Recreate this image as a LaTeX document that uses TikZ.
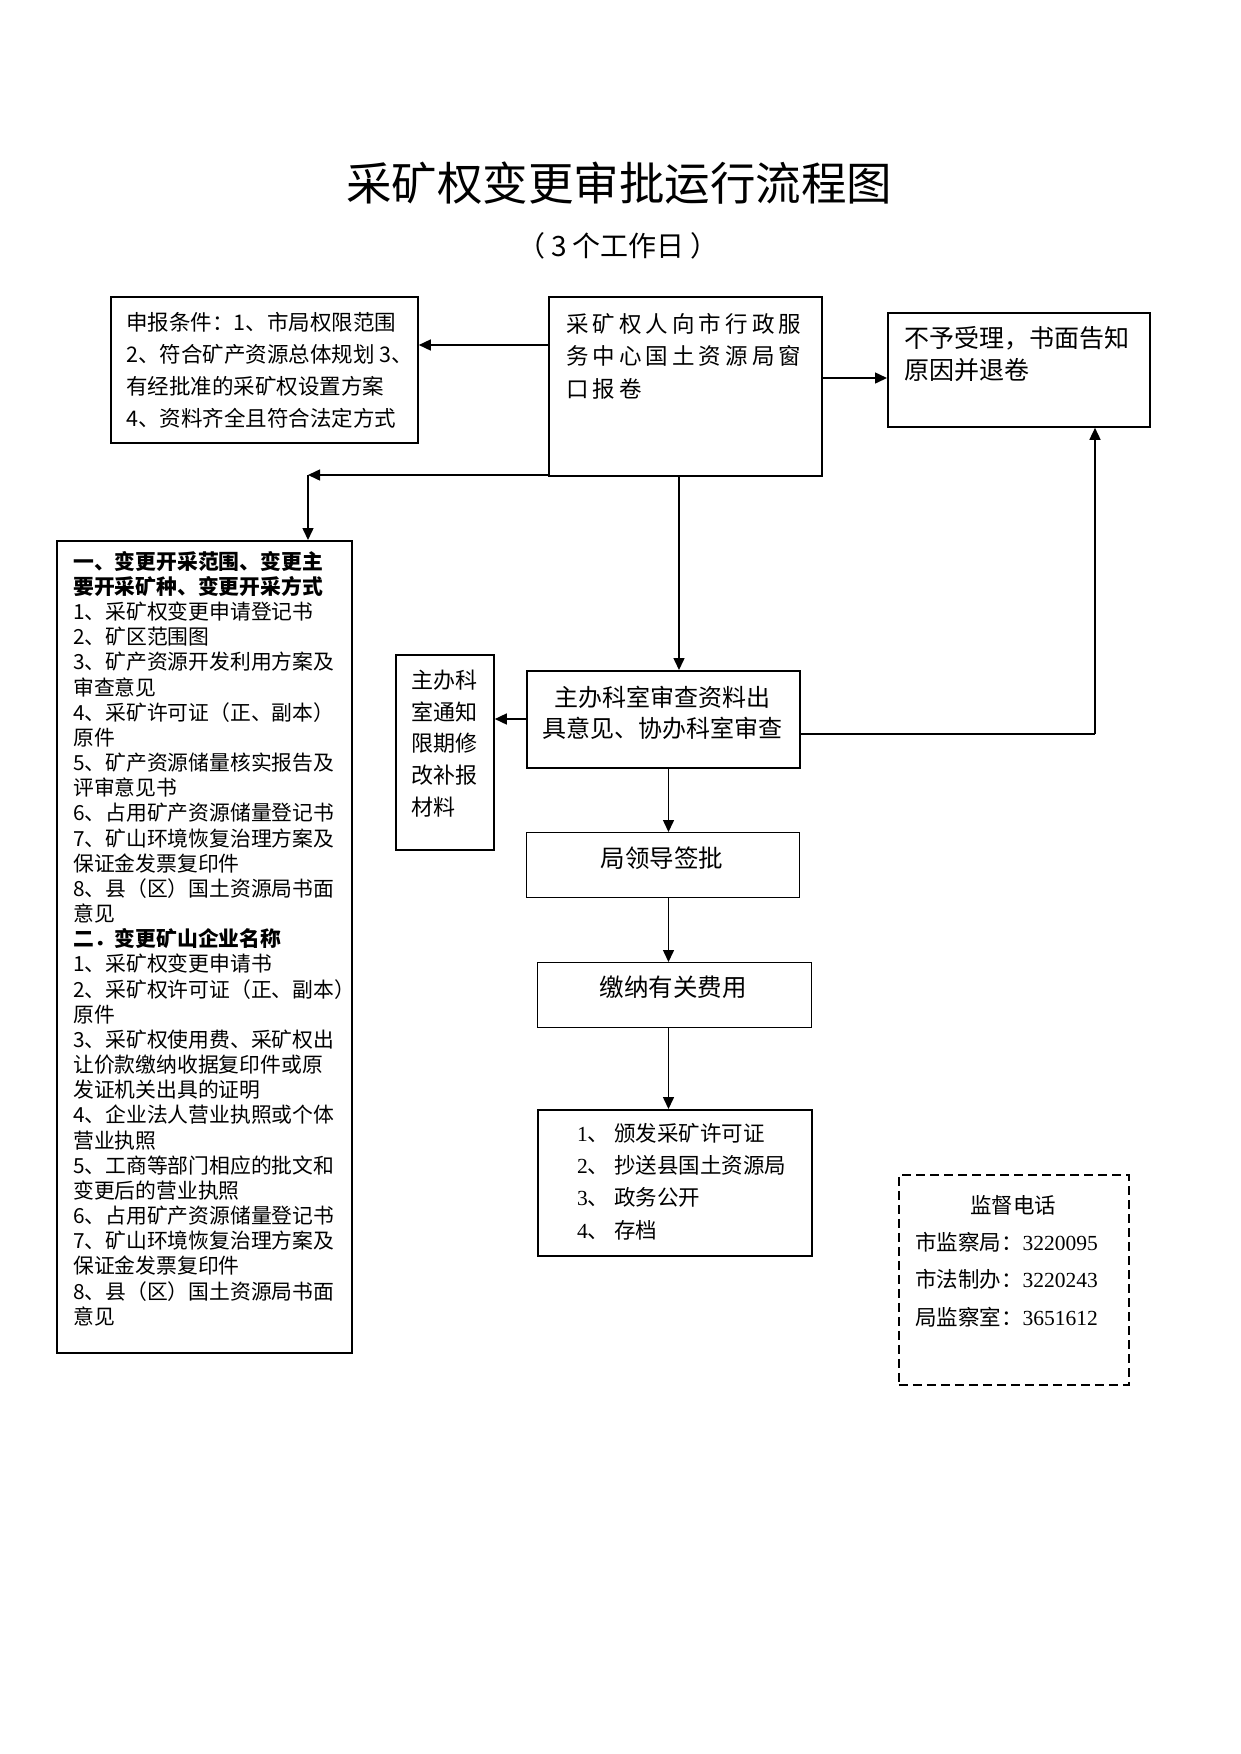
\documentclass[tikz,border=0pt]{standalone}
\usepackage{fontspec}
\setmainfont{Noto Sans CJK SC}
\newfontfamily\tnr{Liberation Serif}
\usetikzlibrary{arrows.meta}
\newcommand\myfs[2]{\fontsize{#1pt}{#2pt}\selectfont}
\begin{document}
\begin{tikzpicture}[x=1pt,y=-1pt,
  box/.style={draw, line width=1.8pt, inner sep=0pt, anchor=north west},
  arr/.style={line width=1.5pt, -{Triangle[length=12pt,width=11pt]}},
  plain/.style={line width=1.5pt},
  txt/.style={inner sep=0pt, align=left, anchor=west},
  ctxt/.style={inner sep=0pt, align=center},
]
\fill[white] (0,0) rectangle (1241,1754);
\useasboundingbox (0,0) rectangle (1241,1754);

% title
\node[ctxt] (title) at (619,183) {\myfs{45.5}{50}采矿权变更审批运行流程图};
\node[ctxt] (subtitle) at (618,246) {\myfs{28}{30}（\hspace{6pt}3 个工作日\hspace{6pt}）};

% boxes
\node[box, minimum width=307pt, minimum height=146pt] (b1) at (110,296) {};
\node[box, minimum width=273pt, minimum height=179pt] (b2) at (548,296) {};
\node[box, minimum width=262pt, minimum height=114pt] (b3) at (887,312) {};
\node[box, minimum width=295pt, minimum height=812pt] (b4) at (56,540) {};
\node[box, minimum width=98pt, minimum height=195pt] (b5) at (395,654) {};
\node[box, minimum width=273pt, minimum height=97pt] (b6) at (526,670) {};
\node[box, minimum width=273pt, minimum height=65pt, line width=1.4pt] (b7) at (526,832) {};
\node[box, minimum width=274pt, minimum height=65pt, line width=1.4pt] (b8) at (537,962) {};
\node[box, minimum width=274pt, minimum height=146pt] (b9) at (537,1109) {};
\node[box, minimum width=230pt, minimum height=210pt, line width=1.6pt, dash pattern=on 9pt off 5pt] (b10) at (898,1174) {};

% texts
\node[txt, font={\myfs{21.5}{32}}] (t1) at (126,370.5)
  {申报条件：1、市局权限范围\\2、符合矿产资源总体规划 3、\\有经批准的采矿权设置方案\\4、资料齐全且符合法定方式};
\node[txt, font={\myfs{22.5}{32.5}\addfontfeatures{LetterSpace=18}}] (t2) at (566,356)
  {采矿权人向市行政服\\务中心国土资源局窗\\口报卷};
\node[txt, font={\myfs{25}{32}}] (t3) at (904,354)
  {不予受理，书面告知\\原因并退卷};
\node[txt, font={\myfs{20.8}{25.17}}] (t4) at (73,938.5)
  {{\bfseries 一、变更开采范围、变更主}\\
   {\bfseries 要开采矿种、变更开采方式}\\
   1、采矿权变更申请登记书\\
   2、矿区范围图\\
   3、矿产资源开发利用方案及\\
   审查意见\\
   4、采矿许可证（正、副本）\\
   原件\\
   5、矿产资源储量核实报告及\\
   评审意见书\\
   6、占用矿产资源储量登记书\\
   7、矿山环境恢复治理方案及\\
   保证金发票复印件\\
   8、县（区）国土资源局书面\\
   意见\\
   {\bfseries 二．变更矿山企业名称}\\
   1、采矿权变更申请书\\
   2、采矿权许可证（正、副本）\\
   原件\\
   3、采矿权使用费、采矿权出\\
   让价款缴纳收据复印件或原\\
   发证机关出具的证明\\
   4、企业法人营业执照或个体\\
   营业执照\\
   5、工商等部门相应的批文和\\
   变更后的营业执照\\
   6、占用矿产资源储量登记书\\
   7、矿山环境恢复治理方案及\\
   保证金发票复印件\\
   8、县（区）国土资源局书面\\
   意见};
\node[txt, font={\myfs{22}{31.75}}] (t5) at (411,743.5)
  {主办科\\室通知\\限期修\\改补报\\材料};
\node[ctxt, font={\myfs{24}{31}}] (t6) at (662,712.5)
  {主办科室审查资料出\\具意见、协办科室审查};
\node[ctxt, font={\myfs{24.5}{30}}] (t7) at (662,858) {局领导签批};
\node[ctxt, font={\myfs{24.5}{30}}] (t8) at (673,987) {缴纳有关费用};
\node[txt, font={\myfs{21.5}{32.3}}] (t9) at (577,1181.5)
  {{\tnr 1}、\hspace{5pt}颁发采矿许可证\\{\tnr 2}、\hspace{5pt}抄送县国土资源局\\{\tnr 3}、\hspace{5pt}政务公开\\{\tnr 4}、\hspace{5pt}存档};
\node[ctxt, font={\myfs{21.5}{30}}] (t10a) at (1013,1205) {监督电话};
\node[txt, font={\myfs{21.5}{37.5}}] (t10b) at (915,1279.7)
  {市监察局：{\tnr 3220095}\\市法制办：{\tnr 3220243}\\局监察室：{\tnr 3651612}};

% connectors
\coordinate (yA) at (0,345);
\draw[arr] (b2.west |- yA) -- (b1.east |- yA);
\coordinate (yB) at (0,378);
\draw[arr] (b2.east |- yB) -- (b3.west |- yB);
\coordinate (cL) at (308,475);
\draw[arr] (b2.west |- cL) -- (cL);
\draw[arr] (cL) -- (b4.north -| cL);
\coordinate (xC) at (679,0);
\draw[arr] (b2.south -| xC) -- (b6.north -| xC);
\coordinate (yD) at (0,719);
\draw[arr] (b6.west |- yD) -- (b5.east |- yD);
\coordinate (cR) at (1095,734);
\draw[plain] (b6.east |- cR) -- (cR);
\draw[arr] (cR) -- (b3.south -| cR);
\coordinate (xE) at (668.5,0);
\draw[arr] (b6.south -| xE) -- (b7.north -| xE);
\draw[arr] (b7.south -| xE) -- (b8.north -| xE);
\draw[arr] (b8.south -| xE) -- (b9.north -| xE);
\end{tikzpicture}
\end{document}
